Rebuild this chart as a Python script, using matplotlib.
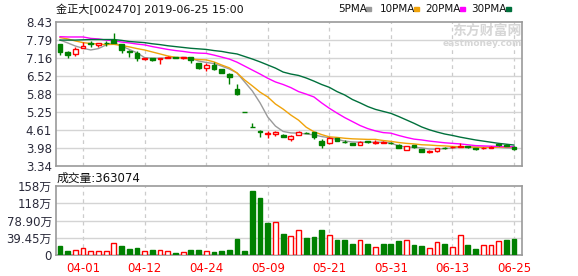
import numpy as np
import matplotlib
matplotlib.use('Agg')
import matplotlib.pyplot as plt

plt.rcParams['font.family'] = ['DejaVu Sans', 'Noto Sans CJK SC']

# daily K line, 2019-03-27 .. 2019-06-25 (60 trading days)
opens = [7.63, 7.37, 7.28, 7.51, 7.67, 7.62, 7.69, 7.78, 7.63, 7.41,
         7.33, 7.10, 7.13, 7.10, 7.15, 7.17, 7.14, 7.17, 6.96, 6.78,
         6.90, 6.76, 6.58, 6.05, 5.24, 4.72, 4.57, 4.47, 4.45, 4.44,
         4.29, 4.43, 4.51, 4.52, 4.21, 4.13, 4.31, 4.19, 4.13, 4.07,
         4.20, 4.14, 4.16, 4.16, 4.07, 3.91, 4.07, 3.93, 3.84, 3.85,
         3.98, 3.99, 4.00, 4.02, 3.96, 3.95, 3.98, 4.09, 4.08, 4.01]
highs = [7.65, 7.38, 7.55, 7.73, 7.75, 7.67, 7.74, 8.04, 7.65, 7.44,
         7.41, 7.15, 7.14, 7.14, 7.20, 7.18, 7.19, 7.18, 6.97, 6.98,
         7.00, 6.77, 6.60, 6.23, 5.24, 4.84, 4.60, 4.56, 4.56, 4.46,
         4.43, 4.55, 4.52, 4.54, 4.28, 4.35, 4.33, 4.26, 4.14, 4.20,
         4.23, 4.25, 4.20, 4.17, 4.09, 4.05, 4.08, 3.94, 3.90, 3.97,
         3.99, 4.03, 4.14, 4.03, 3.97, 3.99, 4.02, 4.10, 4.10, 4.02]
lows = [7.25, 7.16, 7.23, 7.51, 7.55, 7.55, 7.58, 7.66, 7.31, 7.19,
        7.05, 7.09, 7.05, 6.92, 7.13, 7.14, 7.12, 6.96, 6.77, 6.70,
        6.74, 6.60, 6.23, 5.85, 5.23, 4.71, 4.37, 4.33, 4.38, 4.35,
        4.21, 4.42, 4.48, 4.30, 3.98, 4.12, 4.20, 4.15, 4.06, 4.06,
        4.15, 4.10, 4.14, 4.10, 3.95, 3.88, 3.98, 3.83, 3.80, 3.84,
        3.93, 3.97, 3.99, 3.95, 3.88, 3.94, 3.97, 4.05, 4.03, 3.90]
closes = [7.35, 7.26, 7.47, 7.58, 7.65, 7.66, 7.67, 7.68, 7.43, 7.36,
          7.13, 7.14, 7.08, 7.13, 7.17, 7.15, 7.17, 7.06, 6.78, 6.90,
          6.75, 6.61, 6.46, 5.86, 5.23, 4.71, 4.52, 4.49, 4.52, 4.36,
          4.38, 4.52, 4.50, 4.34, 4.08, 4.33, 4.22, 4.17, 4.07, 4.19,
          4.17, 4.18, 4.17, 4.13, 3.97, 4.04, 4.01, 3.84, 3.86, 3.96,
          3.95, 4.01, 4.05, 3.99, 3.93, 3.97, 4.01, 4.07, 4.05, 3.93]

# volume in 万
volume = [20.6, 9.0, 10.7, 15.0, 8.4, 8.4, 8.4, 26.7, 20.6, 13.7,
          16.0, 9.2, 11.4, 10.7, 9.2, 5.3, 6.9, 11.4, 11.4, 8.4,
          6.9, 9.2, 11.4, 36.0, 9.2, 146.6, 130.5, 73.0, 75.6, 48.0,
          42.7, 56.5, 39.0, 41.0, 57.0, 45.8, 34.3, 34.3, 25.2, 33.6,
          25.2, 17.5, 25.2, 25.2, 32.0, 33.6, 22.9, 20.6, 15.3, 29.0,
          25.2, 17.5, 45.0, 22.9, 13.7, 22.0, 22.0, 31.3, 34.3, 36.3]

ma5 = [7.78, 7.68, 7.57, 7.49, 7.43, 7.48, 7.61, 7.69, 7.57, 7.45,
       7.33, 7.16, 7.14, 7.14, 7.15, 7.16, 7.17, 7.15, 7.04, 6.99,
       6.95, 6.86, 6.76, 6.62, 6.30, 5.98, 5.56, 5.06, 4.74, 4.55,
       4.50, 4.49, 4.46, 4.43, 4.37, 4.33, 4.27, 4.21, 4.18, 4.17,
       4.17, 4.17, 4.17, 4.14, 4.04, 4.00, 3.99, 3.97, 3.93, 3.92,
       3.95, 3.96, 4.00, 4.01, 4.00, 3.99, 3.99, 3.99, 3.97, 3.96]
ma10 = [7.87, 7.82, 7.75, 7.69, 7.66, 7.64, 7.62, 7.63, 7.59, 7.54,
        7.48, 7.43, 7.36, 7.29, 7.22, 7.17, 7.15, 7.11, 7.09, 7.08,
        7.01, 6.90, 6.80, 6.62, 6.37, 6.16, 5.94, 5.77, 5.52, 5.34,
        5.13, 4.95, 4.70, 4.54, 4.44, 4.36, 4.34, 4.31, 4.29, 4.28,
        4.27, 4.27, 4.23, 4.20, 4.16, 4.13, 4.11, 4.08, 4.07, 4.05,
        4.04, 4.02, 4.01, 4.00, 3.99, 3.99, 3.99, 3.99, 3.99, 3.99]
ma20 = [7.90, 7.89, 7.89, 7.89, 7.84, 7.82, 7.78, 7.76, 7.71, 7.68,
        7.64, 7.61, 7.55, 7.50, 7.45, 7.41, 7.38, 7.34, 7.32, 7.31,
        7.25, 7.18, 7.11, 7.00, 6.86, 6.72, 6.58, 6.43, 6.30, 6.21,
        6.10, 5.96, 5.87, 5.77, 5.56, 5.37, 5.20, 5.04, 4.90, 4.76,
        4.65, 4.57, 4.51, 4.49, 4.41, 4.34, 4.28, 4.25, 4.21, 4.18,
        4.15, 4.13, 4.11, 4.08, 4.05, 4.04, 4.03, 4.02, 4.01, 4.01]
ma30 = [7.78, 7.78, 7.78, 7.79, 7.80, 7.80, 7.80, 7.80, 7.77, 7.73,
        7.71, 7.69, 7.65, 7.62, 7.58, 7.55, 7.52, 7.49, 7.47, 7.45,
        7.41, 7.38, 7.33, 7.29, 7.20, 7.11, 7.01, 6.90, 6.79, 6.65,
        6.58, 6.53, 6.44, 6.33, 6.21, 6.11, 5.96, 5.84, 5.68, 5.56,
        5.43, 5.33, 5.26, 5.19, 5.08, 4.96, 4.84, 4.71, 4.61, 4.53,
        4.46, 4.41, 4.35, 4.30, 4.25, 4.21, 4.17, 4.13, 4.10, 4.07]

date_ticks = [3, 11, 19, 27, 35, 43, 51, 59]
date_labels = ['04-01', '04-12', '04-24', '05-09', '05-21', '05-31', '06-13', '06-25']
price_labels = ['3.34', '3.98', '4.61', '5.25', '5.88', '6.52', '7.16', '7.79', '8.43']
vol_labels = ['0', '39.45万', '78.90万', '118万', '158万']

RED = '#ff0000'
GREEN = '#008000'
ma_colors = ['#9a9a9a', '#f0a30a', '#ff00ff', '#00703c']

o = np.array(opens)
h = np.array(highs)
l = np.array(lows)
c = np.array(closes)
x = np.arange(len(c))
up = c >= o
prev = np.concatenate([[o[0]], c[:-1]])
vol_up = c >= prev

fig = plt.figure(figsize=(5.78, 2.76), dpi=100)
W, H = 578.0, 276.0
ax = fig.add_axes([56 / W, 1 - 165.7 / H, 466 / W, 144 / H])
axv = fig.add_axes([56 / W, 1 - 255 / H, 466 / W, 69 / H])


def style(a):
    a.set_xlim(-0.52, 60.04)
    for s in a.spines.values():
        s.set_color('#9a9a9a')
        s.set_linewidth(1.2)
    a.tick_params(length=0, labelsize=8.5, colors='#2a2a3a', pad=3)
    a.set_xticks(date_ticks)
    for t in date_ticks:
        a.axvline(t, color='#cccccc', lw=0.9, ls=(0, (3, 3)), zorder=0)


# price panel
style(ax)
pticks = np.linspace(3.34, 8.43, 9)
ax.set_ylim(3.34, 8.43)
ax.set_yticks(pticks)
ax.set_yticklabels(price_labels)
for v in pticks[1:-1]:
    ax.axhline(v, color='#d4d4d4', lw=1, zorder=0)
ax.set_xticklabels([])

for m, col in zip([ma5, ma10, ma20, ma30], ma_colors):
    ax.plot(x, m, color=col, lw=1, zorder=2)

ax.vlines(x, l, h, colors=[RED if u else GREEN for u in up], lw=1, zorder=3)
body = np.maximum(np.abs(c - o), 0.004)
ax.bar(x, body, bottom=np.minimum(o, c), width=0.62,
       color=['white' if u else GREEN for u in up],
       edgecolor=[RED if u else GREEN for u in up], linewidth=1, zorder=4)

# volume panel
style(axv)
vticks = np.linspace(0, 157.8, 5)
axv.set_ylim(0, 157.8)
axv.set_yticks(vticks)
axv.set_yticklabels(vol_labels)
for v in vticks[1:-1]:
    axv.axhline(v, color='#d4d4d4', lw=1, zorder=0)
axv.set_xticklabels(date_labels, fontsize=8.5)
axv.tick_params(axis='x', pad=5)
for lab in axv.get_xticklabels():
    lab.set_color(RED)
axv.bar(x, volume, width=0.62,
        color=['white' if u else GREEN for u in vol_up],
        edgecolor=[RED if u else GREEN for u in vol_up], linewidth=1, zorder=3)

# texts
fig.text(56 / W, 1 - 9 / H, '金正大[002470] 2019-06-25 15:00', fontsize=8,
         va='center', ha='left', color='#111111')
fig.text(57 / W, 1 - 178 / H, '成交量:363074', fontsize=8.5,
         va='center', ha='left', color='#111111')

legend_items = [('5PMA', 338, 366), ('10PMA', 380, 414), ('20PMA', 425, 460), ('30PMA', 471, 506)]
for (name, tx, sx), col in zip(legend_items, ma_colors):
    fig.text(tx / W, 1 - 9 / H, name, fontsize=7.5, va='center', ha='left', color='#111111')
    fig.patches.append(plt.Rectangle((sx / W, 1 - 11 / H), 5 / W, 4 / H,
                                     transform=fig.transFigure, color=col, figure=fig))

# watermark
fig.text(522 / W, 1 - 31 / H, '东方财富网', fontsize=10, fontweight='bold',
         va='center', ha='right', color='#d6d6d6')
fig.text(522 / W, 1 - 43 / H, 'eastmoney.com', fontsize=6.5, fontweight='bold',
         va='center', ha='right', color='#d6d6d6')

fig.savefig('out.png', dpi=100)
